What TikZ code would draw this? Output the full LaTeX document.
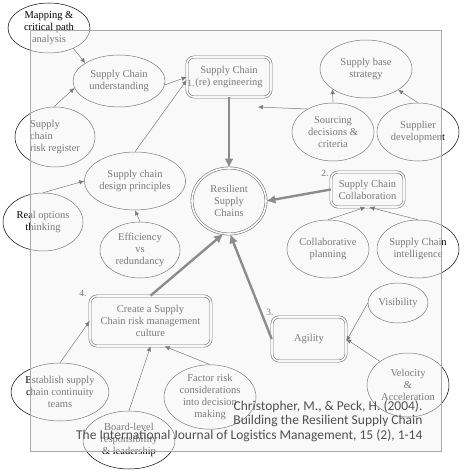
\documentclass[tikz,border=0pt]{standalone}
\usepackage{fontspec}
\setmainfont{Liberation Serif}
\newfontfamily\citefont{Carlito}
\usetikzlibrary{
  shapes.geometric,
  arrows.meta,
  calc
}
\definecolor{panelfill}{RGB}{243,243,243}
\definecolor{panelline}{RGB}{168,168,168}
\definecolor{citecolor}{RGB}{80,80,80}
\definecolor{inkcolor}{RGB}{0,0,0}
\tikzset{
  bubble/.style 2 args={
    ellipse,
    draw=inkcolor,
    line width=0.5pt,
    inner sep=0pt,
    minimum width=#1,
    minimum height=#2,
    align=center,
    font=\fontsize{10.5}{12}\selectfont
  },
  stage/.style 2 args={
    rectangle,
    draw=inkcolor,
    double,
    double distance=1.6pt,
    line width=0.6pt,
    rounded corners=7pt,
    minimum width=#1,
    minimum height=#2,
    align=center,
    font=\fontsize{10.5}{12}\selectfont
  },
  hub/.style={
    ellipse,
    draw=inkcolor,
    double,
    double distance=1.6pt,
    line width=0.6pt,
    inner sep=0pt,
    minimum width=74pt,
    minimum height=66pt,
    align=center,
    font=\fontsize{10.5}{12}\selectfont
  },
  arrow/.style={
    -{Latex[length=5pt,width=4.5pt]},
    line width=0.5pt,
    color=inkcolor
  },
  mainarrow/.style={
    -{Latex[length=9pt,width=9pt]},
    line width=2.4pt,
    color=inkcolor!85
  },
  stepno/.style={
    font=\fontsize{9.5}{11}\selectfont,
    inner sep=0pt
  }
}

\begin{document}
\begin{tikzpicture}[x=1pt,y=-1pt]
  \useasboundingbox (0,0) rectangle (466,473);

  % Centre
  \node[hub] (resil) at (229,201) {Resilient\\Supply\\Chains};

  % 1. (re) engineering
  \node[stage={84pt}{40pt}] (reeng) at (229,77) {Supply Chain\\(re) engineering};
  \node[stepno] at (191,83) {1.};
  \node[bubble={82pt}{50pt}] (mapping) at (49,28) {Mapping \&\\critical path\\analysis};
  \node[bubble={92pt}{52pt}] (underst) at (119,81) {Supply Chain\\understanding};
  \node[bubble={80pt}{60pt}, align=left] (register) at (55,137) {Supply\\chain\\risk register};
  \node[bubble={92pt}{58pt}] (design) at (135,181) {Supply chain\\design principles};
  \node[bubble={80pt}{58pt}] (realopt) at (43,222) {Real options\\thinking};
  \node[bubble={80pt}{56pt}] (effic) at (140,250) {Efficiency\\vs\\redundancy};
  \node[bubble={92pt}{58pt}] (base) at (366,69) {Supply base\\strategy};
  \node[bubble={82pt}{58pt}] (sourcing) at (333,132) {Sourcing\\decisions \&\\criteria};
  \node[bubble={82pt}{58pt}] (supdev) at (418,132) {Supplier\\development};
  \coordinate (reengtip) at (258,107);

  % 2. Collaboration
  \node[stage={73pt}{35pt}] (collab) at (367.5,189.5) {Supply Chain\\Collaboration};
  \node[stepno] at (325,173) {2.};
  \node[bubble={82pt}{58pt}] (collplan) at (328,249) {Collaborative\\planning};
  \node[bubble={82pt}{58pt}] (intel) at (418,249) {Supply Chain\\intelligence};

  % 3. Agility
  \node[stage={74pt}{44pt}] (agility) at (309,339) {Agility};
  \node[stepno] at (270,312) {3.};
  \node[bubble={60pt}{40pt}] (visib) at (398,303) {Visibility};
  \node[bubble={82pt}{64pt}] (veloc) at (408,385) {Velocity\\\&\\Acceleration};

  % 4. Risk management culture
  \node[stage={121pt}{50pt}] (culture) at (150.5,321) {Create a Supply\\Chain risk management\\culture};
  \node[stepno] at (83,293) {4.};
  \node[bubble={92pt}{58pt}] (establish) at (60,392) {Establish supply\\chain continuity\\teams};
  \node[bubble={92pt}{58pt}] (board) at (129,440) {Board-level\\responsibility\\\& leadership};
  \node[bubble={92pt}{60pt}] (factor) at (210,397) {Factor risk\\considerations\\into decision\\making};

  % Enablers
  \draw[arrow] (mapping.-40) -- (underst.152);
  \draw[arrow] (register.92) -- (underst.189);
  \draw[arrow] (underst.-5) -- (reeng.west);
  \draw[arrow] (design.north) -- ([yshift=-3pt]reeng.west);
  \draw[arrow] (realopt.north) -- (design.west);
  \draw[arrow] (effic.north) -- (design.south);
  \draw[arrow] (sourcing.north) -- (base.211);
  \draw[arrow] (supdev.north) -- (base.-33);
  \draw[arrow] (sourcing.138) -- (reengtip);
  \draw[arrow] (collplan.north) -- ([xshift=-2pt]collab.south);
  \draw[arrow] (intel.north) -- ([xshift=2pt]collab.south);
  \draw[arrow] (visib.west) -- ([yshift=-2pt]agility.east);
  \draw[arrow] (veloc.140) -- (agility.east);
  \draw[arrow] (establish.north) -- (culture.west);
  \draw[arrow] (board.north) -- (culture.south);
  \draw[arrow] (factor.north) -- ([xshift=14pt]culture.south);

  % Into the centre
  \draw[mainarrow] (reeng.south) -- (resil.north);
  \draw[mainarrow] (collab.west) -- (resil.east);
  \draw[mainarrow] (agility.west) -- (resil.-88);
  \draw[mainarrow] (culture.north) -- (resil.-100);

  % Panel
  \fill[panelfill, fill opacity=0.5] (30,30) rectangle (441,451);
  \draw[panelline, line width=0.8pt] (30,30) rectangle (441,451);

  % Source
  \node[anchor=east, align=right, text=citecolor,
        font=\citefont\fontsize{13.5}{14.5}\selectfont] (source) at (426,421)
    {Christopher, M., \& Peck, H. (2004).\\Building the Resilient Supply Chain\\The International Journal of Logistics Management, 15 (2), 1-14};

\end{tikzpicture}
\end{document}
